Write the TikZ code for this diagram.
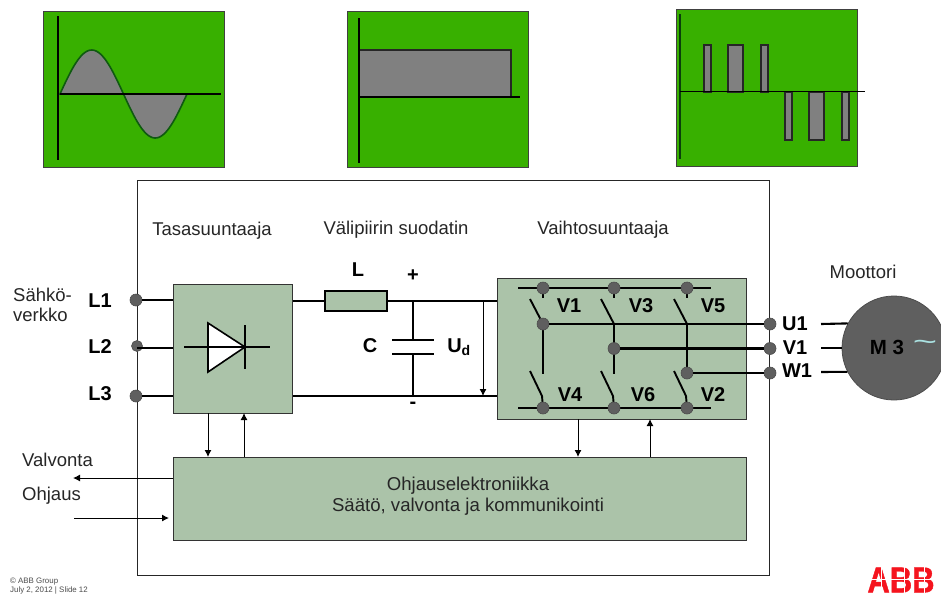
\documentclass[tikz,border=0pt]{standalone}
\usepackage{fontspec}
\setmainfont{Liberation Sans}
\newfontfamily\abbfont{Liberation Sans}[BoldFeatures={FakeBold=1.2}]
\usetikzlibrary{arrows.meta,calc}
\definecolor{pgreen}{HTML}{38B000}
\definecolor{boxg}{HTML}{ABC3A9}
\definecolor{dotg}{HTML}{5F5F5F}
\definecolor{wave}{HTML}{808080}
\definecolor{dgreen}{HTML}{0F5A10}
\definecolor{abbred}{HTML}{F5141E}
\tikzset{
 panel/.style={draw=black!75,line width=1pt,fill=pgreen},
 axisl/.style={draw=black,line width=1.1pt},
 pulse/.style={draw=black!85,line width=1.2pt,fill=wave},
 blockbox/.style={draw=black!80,line width=1pt,fill=boxg},
 wire/.style={draw=black,line width=2.1pt},
 thin arrow/.style={draw=black,line width=1pt,-{Latex[length=7pt,width=7pt]}},
 dot/.style={circle,draw=black!70,fill=dotg,line width=.6pt,minimum size=12pt,inner sep=0pt},
 lab/.style={font=\fontsize{18.5}{20}\selectfont,text=black!85,inner sep=0pt},
 blab/.style={font=\fontsize{20}{22}\bfseries\selectfont,text=black,inner sep=0pt},
}
\begin{document}
\begin{tikzpicture}[x=1pt,y=-1pt]
\useasboundingbox (0,0) rectangle (941,595);
\fill[white] (0,0) rectangle (941,595);
% panels
\path[panel] (43,11) rectangle (224,167);
\draw[axisl] (58,16) -- (58,160);
\draw[draw=dgreen,line width=1.6pt,fill=wave] plot[domain=60:187,samples=80] (\x,{94-44*sin((\x-60)/127*360)}) -- cycle;
\draw[axisl] (60,94) -- (221,94);
\path[panel] (347,11) rectangle (528,167);
\path[pulse] (359,50) rectangle (511,97);
\draw[axisl] (359,18) -- (359,163);
\draw[axisl] (359,97) -- (520,97);
\path[panel] (676,9) rectangle (857,166);
\draw[draw=dgreen!70!black,line width=1.4pt] (680,14) -- (680,159);
\foreach \a/\b in {704/711,728/743,761/768} \path[pulse] (\a,45) rectangle (\b,92);
\foreach \a/\b in {785/792,809/824,842/849} \path[pulse] (\a,92) rectangle (\b,140);
\draw[axisl] (680,91.5) -- (865,91.5);
% main frame
\draw[black!85,line width=.8pt] (137,180) rectangle (769,575);
% blocks
\node[blockbox,minimum width=119pt,minimum height=129pt,inner sep=0pt,anchor=north west] (rect) at (173,284) {};
\node[blockbox,minimum width=249pt,minimum height=141pt,inner sep=0pt,anchor=north west] (inv) at (497,278) {};
\node[blockbox,minimum width=573pt,minimum height=83pt,inner sep=0pt,anchor=north west] (ctrl) at (173,457) {};
\node[inner sep=0pt,align=center,font=\fontsize{18.6}{21}\selectfont,text=black!85] (ctrltxt) at (468,496) {Ohjauselektroniikka\\Säätö, valvonta ja kommunikointi};
\node[draw=black,line width=2pt,fill=boxg,minimum width=62pt,minimum height=20pt,inner sep=0pt,anchor=north west] (ind) at (324,290) {};
% input dots
\node[dot] (dL1) at (136,300) {};
\node[dot,minimum size=11pt] (dL2) at (137,346) {};
\node[dot] (dL3) at (136,396) {};
\draw[wire] (dL1) -- (dL1 -| rect.west);
\draw[wire] ($(dL2)+(0,2)$) -- ($(dL2 -| rect.west)+(0,2)$);
\draw[wire] (dL3) -- (dL3 -| rect.west);
% diode
\coordinate (dtip) at (245,347);
\draw[line width=1.6pt,black,fill=white] (208,323) -- (dtip) -- (208,372) -- cycle;
\draw[wire] (184,347) -- (270,347);
\draw[wire] (245,325) -- (245,369);
% dc link
\coordinate (capT) at (413,300);
\coordinate (capB) at (413,396);
\coordinate (capP1) at (413,340);
\coordinate (capP2) at (413,354);
\coordinate (udT) at (483,300);
\coordinate (udB) at (483,396);
\draw[wire] (rect.east |- ind.west) -- (ind.west);
\draw[wire] (ind.east) -- (inv.west |- ind.east);
\draw[wire] (rect.east |- capB) -- (inv.west |- capB);
\draw[wire] (capT) -- (capP1);
\draw[wire] (capP2) -- (capB);
\draw[wire] ($(capP1)+(-21,0)$) -- ($(capP1)+(21,0)$);
\draw[wire] ($(capP2)+(-21,0)$) -- ($(capP2)+(21,0)$);
\draw[thin arrow] (udT) -- (udB);
% inverter busses
\coordinate (busTl) at (518,288); \coordinate (busTr) at (711,288);
\coordinate (busBl) at (518,408); \coordinate (busBr) at (711,408);
\draw[wire] (busTl) -- (busTr);
\draw[wire] (busBl) -- (busBr);
\foreach \n/\x in {t1/543,t2/614,t3/687}{
  \draw[wire] (\x,288) -- (\x,298);
  \draw[line width=1.9pt] (\x-13,299) -- (\x,324);
}
\foreach \n/\x in {b1/543,b2/614,b3/687}{
  \draw[line width=1.9pt] (\x-13,371) -- (\x-1,396) -- (\x,408);
}
\node[dot] (t1) at (543,288) {};
\node[dot] (t2) at (614,288) {};
\node[dot] (t3) at (687,288) {};
\node[dot] (b1) at (543,408) {};
\node[dot] (b2) at (614,408) {};
\node[dot] (b3) at (687,408) {};
\coordinate (endU) at (543,374);
\coordinate (endV) at (614,374);
\coordinate (topV) at (614,324);
\coordinate (topW) at (687,324);
\draw[wire] (543,324) -- (endU);
\draw[wire] (topV) -- (endV);
\draw[wire] (topW) -- (687,373);
\node[dot] (mU) at (543,324) {};
\node[dot] (mV) at (614,348.5) {};
\node[dot] (mW) at (687,373) {};
\node[dot] (oU) at (770,324) {};
\node[dot] (oV) at (770,348.5) {};
\node[dot] (oW) at (770,373) {};
\draw[wire] (mU) -- (oU);
\draw[wire] (mV) -- (oV);
\draw[wire] (mW) -- (oW);
% motor
\node[circle,draw=black!70,fill=dotg,line width=.8pt,minimum size=104pt,inner sep=0pt] (mot) at (894,348) {};
\coordinate (sU) at (821,324); \coordinate (sV) at (821,348); \coordinate (sW) at (821,372);
\draw[wire] (sU) -- (mot.152.5);
\draw[wire] (sV) -- (mot.west);
\draw[wire] (sW) -- (mot.207.5);
\node[blab,font=\fontsize{20.5}{22}\bfseries\selectfont] (mtxt) at (887,347) {M 3};
\node[inner sep=0pt,xscale=1.6,text={rgb,255:red,170;green,225;blue,225},font=\fontsize{26}{26}\selectfont] (tilde) at (925,345) {\textasciitilde};
% control arrows
\coordinate (a1t) at (208,413); \coordinate (a1b) at (208,457);
\coordinate (a2t) at (244,413); \coordinate (a2b) at (244,457);
\coordinate (a3t) at (578,419); \coordinate (a3b) at (578,457);
\coordinate (a4t) at (650,419); \coordinate (a4b) at (650,457);
\draw[thin arrow] (a1t) -- (a1b);
\draw[thin arrow] (a2b) -- (a2t);
\draw[thin arrow] (a3t) -- (a3b);
\draw[thin arrow] (a4b) -- (a4t);
\coordinate (valv) at (73,478);
\coordinate (ohj) at (74,518);
\coordinate (ohjend) at (169,518);
\draw[thin arrow] (ctrl.west |- valv) -- (valv);
\draw[thin arrow] (ohj) -- (ohjend);
% labels
\node[lab] (tTas) at (212,231) {Tasasuuntaaja};
\node[lab] (tVal) at (396,230) {Välipiirin suodatin};
\node[lab] (tVai) at (603,230) {Vaihtosuuntaaja};
\node[lab] (tMoo) at (863,272) {Moottori};
\node[lab,align=left,anchor=west] (tSah) at (13,305) {Sähkö-\\verkko};
\node[lab,anchor=west] (tValv) at (22,460) {Valvonta};
\node[lab,anchor=west] (tOhj) at (22,496) {Ohjaus};
\node[blab] at (100,301) {L1};
\node[blab] at (100,347) {L2};
\node[blab] at (100,394) {L3};
\node[blab] at (358,270) {L};
\node[blab] at (413,276) {+};
\node[blab] at (370,346) {C};
\node[blab] at (459,347) {U\textsubscript{d}};
\node[blab] at (413,405) {-};
\node[blab] at (569,306) {V1};
\node[blab] at (641,306) {V3};
\node[blab] at (713,306) {V5};
\node[blab] at (570,395) {V4};
\node[blab] at (643,395) {V6};
\node[blab] at (713,395) {V2};
\node[blab] at (795,324) {U1};
\node[blab] at (795,348) {V1};
\node[blab] at (797,371) {W1};
% footer
\node[anchor=west,inner sep=0pt,align=left,text=black!70,font=\fontsize{7.9}{8.5}\selectfont] (foot) at (10,586) {© ABB Group\\July 2, 2012 | Slide 12};
\node[inner sep=0pt,text=abbred,xscale=.86,font=\abbfont\fontsize{36}{36}\bfseries\selectfont] (abb) at (901,580) {ABB};
\draw[white,line width=.6pt] (868,579.5) -- (935,579.5);
\foreach \x in {881,904,924} \draw[white,line width=.6pt] (\x,566) -- (\x,594);
\end{tikzpicture}
\end{document}
